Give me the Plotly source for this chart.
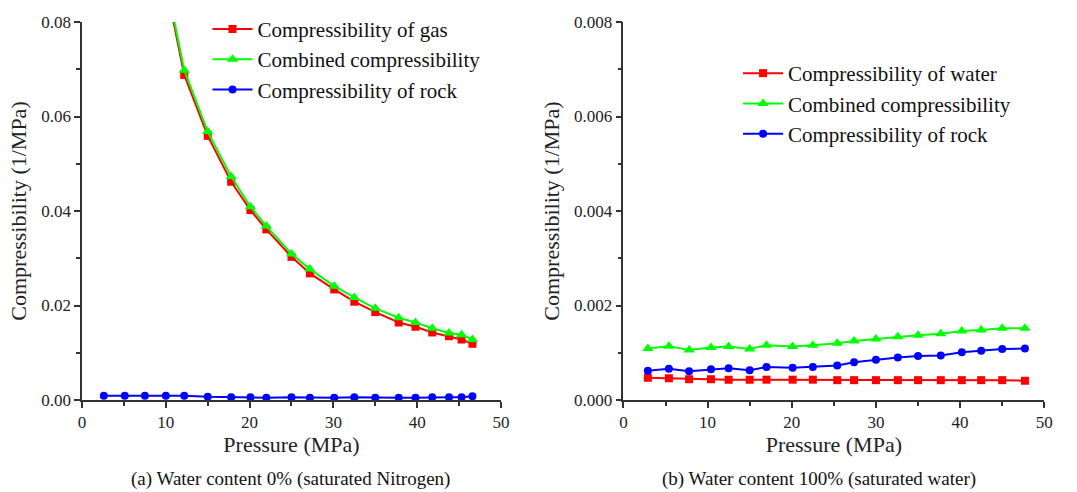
import plotly.graph_objects as go

# ---------- Panel (a): water content 0% ----------
p_a = [2.6, 5.1, 7.5, 10.0, 12.2, 15.0, 17.8, 20.1, 22.0, 25.0, 27.2, 30.1,
       32.5, 35.0, 37.8, 39.8, 41.8, 43.8, 45.3, 46.6]
gas_a = [0.350, 0.170, 0.115, 0.088, 0.0688, 0.0559, 0.0462, 0.0402, 0.0361,
         0.0303, 0.0268, 0.0234, 0.0208, 0.0186, 0.0164, 0.0155, 0.0143,
         0.0135, 0.0128, 0.0119]
comb_a = [0.351, 0.171, 0.116, 0.089, 0.0698, 0.0568, 0.0473, 0.0409, 0.0368,
          0.0309, 0.0277, 0.0241, 0.0217, 0.0194, 0.0174, 0.0164, 0.0152,
          0.0142, 0.0138, 0.0128]
rock_a = [0.0009, 0.0009, 0.0009, 0.0009, 0.0009, 0.0007, 0.0006, 0.0006,
          0.0005, 0.0006, 0.0005, 0.0005, 0.0006, 0.0005, 0.0005, 0.0005,
          0.0006, 0.0006, 0.0006, 0.0008]

# ---------- Panel (b): water content 100% ----------
p_b = [2.9, 5.4, 7.8, 10.4, 12.5, 15.0, 17.0, 20.1, 22.5, 25.4, 27.4, 30.0,
       32.6, 35.0, 37.7, 40.2, 42.5, 45.0, 47.7]
water_b = [0.00047, 0.00046, 0.00044, 0.00044, 0.00043, 0.00043, 0.00043,
           0.00043, 0.00043, 0.00042, 0.00042, 0.00042, 0.00042, 0.00042,
           0.00042, 0.00042, 0.00042, 0.00042, 0.00041]
comb_b = [0.00109, 0.00114, 0.00106, 0.00111, 0.00113, 0.00108, 0.00116,
          0.00113, 0.00116, 0.00120, 0.00125, 0.00129, 0.00134, 0.00137,
          0.00140, 0.00146, 0.00148, 0.00152, 0.00152]
rock_b = [0.00062, 0.00066, 0.00061, 0.00065, 0.00067, 0.00063, 0.00070,
          0.00068, 0.00070, 0.00073, 0.00080, 0.00085, 0.00090, 0.00093,
          0.00094, 0.00101, 0.00104, 0.00108, 0.00109]

x_ticks = [0, 10, 20, 30, 40, 50]
ya_ticks = [0.00, 0.02, 0.04, 0.06, 0.08]
ya_labels = ["0.00", "0.02", "0.04", "0.06", "0.08"]
yb_ticks = [0.000, 0.002, 0.004, 0.006, 0.008]
yb_labels = ["0.000", "0.002", "0.004", "0.006", "0.008"]

RED, GREEN, BLUE = "#ff0000", "#00ff00", "#0000ff"
FONT = "Liberation Serif"
AX = "#333333"

fig = go.Figure()


def add(x, y, name, color, symbol, size, xa, ya, legend):
    fig.add_trace(go.Scatter(
        x=x, y=y, name=name, mode="lines+markers",
        line=dict(color=color, width=2),
        marker=dict(symbol=symbol, size=size, color=color),
        xaxis=xa, yaxis=ya, legend=legend))


add(p_a, gas_a, "Compressibility of gas", RED, "square", 8, "x", "y", "legend")
add(p_a, comb_a, "Combined compressibility", GREEN, "triangle-up", 10, "x", "y", "legend")
add(p_a, rock_a, "Compressibility of rock", BLUE, "circle", 8, "x", "y", "legend")
add(p_b, water_b, "Compressibility of water", RED, "square", 8, "x2", "y2", "legend2")
add(p_b, comb_b, "Combined compressibility", GREEN, "triangle-up", 10, "x2", "y2", "legend2")
add(p_b, rock_b, "Compressibility of rock", BLUE, "circle", 8, "x2", "y2", "legend2")

W = 1077.0
TICKFONT = dict(family=FONT, size=17, color="#222")
TITLEFONT = dict(family=FONT, size=22, color="#222")


def axis(**kw):
    d = dict(showline=True, linecolor=AX, linewidth=1.5,
             ticks="outside", ticklen=6, tickwidth=1.5, tickcolor=AX,
             showgrid=False, zeroline=False, tickfont=TICKFONT)
    d.update(kw)
    return d


fig.update_layout(
    width=1077, height=492,
    margin=dict(l=0, r=0, t=22, b=92),
    paper_bgcolor="white", plot_bgcolor="white",
    font=dict(family=FONT, color="#111", size=17),
    xaxis=axis(domain=[79 / W, 503 / W], range=[0, 50], tickvals=x_ticks,
               minor=dict(ticks="outside", dtick=5, ticklen=4, tickcolor=AX),
               title=dict(text="Pressure (MPa)", standoff=4, font=TITLEFONT), anchor="y"),
    yaxis=axis(range=[0, 0.08], tickvals=ya_ticks, ticktext=ya_labels,
               minor=dict(ticks="outside", dtick=0.01, ticklen=4, tickcolor=AX),
               title=dict(text="Compressibility (1/MPa)", standoff=8, font=TITLEFONT), anchor="x"),
    xaxis2=axis(domain=[627 / W, 1053 / W], range=[0, 50], tickvals=x_ticks,
                minor=dict(ticks="outside", dtick=5, ticklen=4, tickcolor=AX),
                title=dict(text="Pressure (MPa)", standoff=4, font=TITLEFONT), anchor="y2"),
    yaxis2=axis(range=[0, 0.008], tickvals=yb_ticks, ticktext=yb_labels,
                minor=dict(ticks="outside", dtick=0.001, ticklen=4, tickcolor=AX),
                title=dict(text="Compressibility (1/MPa)", standoff=8, font=TITLEFONT), anchor="x2"),
    legend=dict(x=206 / W, y=1.035, xanchor="left", yanchor="top",
                bgcolor="rgba(0,0,0,0)", font=dict(family=FONT, size=21, color="#111"),
                tracegroupgap=0, itemwidth=40),
    legend2=dict(x=743 / W, y=0.918, xanchor="left", yanchor="top",
                 bgcolor="rgba(0,0,0,0)", font=dict(family=FONT, size=21, color="#111"),
                 tracegroupgap=0, itemwidth=40),
    annotations=[
        dict(text="(a) Water content 0% (saturated Nitrogen)", x=290 / W, y=-0.21,
             xref="paper", yref="paper", showarrow=False, xanchor="center", yanchor="middle",
             font=dict(family=FONT, size=19, color="#111")),
        dict(text="(b) Water content 100% (saturated water)", x=825 / W, y=-0.21,
             xref="paper", yref="paper", showarrow=False, xanchor="center", yanchor="middle",
             font=dict(family=FONT, size=19, color="#111")),
    ],
)

fig.write_html("out.html")
